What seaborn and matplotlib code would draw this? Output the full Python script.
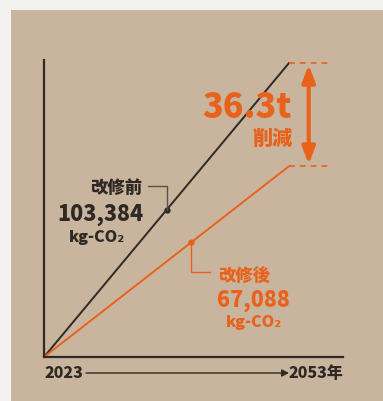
import numpy as np
import pandas as pd
import matplotlib
matplotlib.use("Agg")
import matplotlib.pyplot as plt
import seaborn as sns
from matplotlib.patches import Rectangle
from matplotlib.lines import Line2D
from matplotlib.transforms import IdentityTransform

# ---- data ----
years = [2023, 2053]
before_vals = [0, 103384]
after_vals = [0, 67088]
marker_years = [2038, 2041]
series_names = ["改修前", "改修後"]
value_labels = ["103,384", "67,088"]
unit_label = "kg-CO₂"
reduction_label = "36.3t"
reduction_word = "削減"
start_label = "2023"
end_label = "2053年"

W, H = 383, 401
sns.set_theme(style="white")
plt.rcParams['font.family'] = ['Noto Sans CJK JP', 'DejaVu Sans']

BG_OUT = "#f3f2f1"
TAN = "#c9b59e"
DARK = "#2e2925"
ORANGE = "#e8621c"
WEIGHT = "heavy"

fig = plt.figure(figsize=(W / 100, H / 100), dpi=100, facecolor=BG_OUT)
fig.add_artist(Rectangle((11 / W, 0), 1, 1 - 10 / H, transform=fig.transFigure,
                         facecolor=TAN, edgecolor="none", zorder=0))

def fx(x):
    return x / W

def fy(y):
    return 1 - y / H

ax = fig.add_axes([fx(44), fy(357), (343 - 44) / W, (357 - 60) / H])
ax.set_facecolor("none")

df = pd.DataFrame({
    "year": years * 2,
    "value": before_vals + after_vals,
    "series": [series_names[0]] * 2 + [series_names[1]] * 2,
})
sns.lineplot(data=df, x="year", y="value", hue="series",
             palette={series_names[0]: DARK, series_names[1]: ORANGE},
             linewidth=1.4, legend=False, ax=ax)

ax.set_xlim(2023, 2059.6)
ax.set_ylim(0, 104400)
ax.set_xticks([])
ax.set_yticks([])
ax.set_xlabel("")
ax.set_ylabel("")
for s in ["top", "right"]:
    ax.spines[s].set_visible(False)
for s in ["left", "bottom"]:
    ax.spines[s].set_color(DARK)
    ax.spines[s].set_linewidth(1.6)

# markers on lines
m_before = (marker_years[0], np.interp(marker_years[0], years, before_vals))
m_after = (marker_years[1], np.interp(marker_years[1], years, after_vals))
ax.plot(*m_before, "o", color=DARK, ms=3.5, zorder=5)
ax.plot(*m_after, "o", color=ORANGE, ms=3.5, zorder=5)

# dashed guide lines
for v in [before_vals[-1], after_vals[-1]]:
    ax.plot([years[-1], 2058.2], [v, v], ls=(0, (3.5, 3)), color=ORANGE, lw=1.2,
            clip_on=False)

# reduction arrow
ax.annotate("", xy=(2055.4, after_vals[-1] + 600), xytext=(2055.4, before_vals[-1] - 600),
            arrowprops=dict(arrowstyle="<|-|>,head_length=0.85,head_width=0.32",
                            color=ORANGE, lw=3.0, shrinkA=0, shrinkB=0),
            annotation_clip=False)

fig.canvas.draw()
# leader lines (in display pixels)
bx, by = ax.transData.transform(m_before)
fig.add_artist(Line2D([bx - 19, bx, bx], [by + 24, by + 24, by],
                      transform=IdentityTransform(), color="#5a514a", lw=1.0))
ox, oy = ax.transData.transform(m_after)
fig.add_artist(Line2D([ox, ox, ox + 19], [oy, oy - 30, oy - 30],
                      transform=IdentityTransform(), color=ORANGE, lw=1.0))

# texts
fig.text(fx(292), fy(108), reduction_label, color=ORANGE, fontsize=24.5, fontweight=WEIGHT,
         ha="right", va="center")
fig.text(fx(293), fy(139), reduction_word, color=ORANGE, fontsize=14.5, fontweight=WEIGHT,
         ha="right", va="center")

fig.text(fx(142), fy(188), series_names[0], color=DARK, fontsize=12.5, fontweight=WEIGHT,
         ha="right", va="center")
fig.text(fx(100), fy(215), value_labels[0], color=DARK, fontsize=15.5, fontweight=WEIGHT,
         ha="center", va="center")
fig.text(fx(97), fy(237), unit_label, color=DARK, fontsize=11.5, fontweight=WEIGHT,
         ha="center", va="center")

fig.text(fx(218), fy(276), series_names[1], color=ORANGE, fontsize=12.5, fontweight=WEIGHT,
         ha="left", va="center")
fig.text(fx(253), fy(300), value_labels[1], color=ORANGE, fontsize=15.5, fontweight=WEIGHT,
         ha="center", va="center")
fig.text(fx(254), fy(322), unit_label, color=ORANGE, fontsize=11.5, fontweight=WEIGHT,
         ha="center", va="center")

fig.text(fx(45), fy(373), start_label, color=DARK, fontsize=11.5, fontweight=WEIGHT,
         ha="left", va="center")
fig.text(fx(343), fy(373), end_label, color=DARK, fontsize=11.5, fontweight=WEIGHT,
         ha="right", va="center")
fig.add_artist(plt.Annotation("", xy=(fx(289), fy(373)), xytext=(fx(86), fy(373)),
                              xycoords=fig.transFigure, textcoords=fig.transFigure,
                              arrowprops=dict(arrowstyle="-|>,head_length=0.35,head_width=0.18",
                                              color=DARK, lw=1.0, shrinkA=0, shrinkB=0)))

fig.savefig("out.png", dpi=100, facecolor=BG_OUT)
